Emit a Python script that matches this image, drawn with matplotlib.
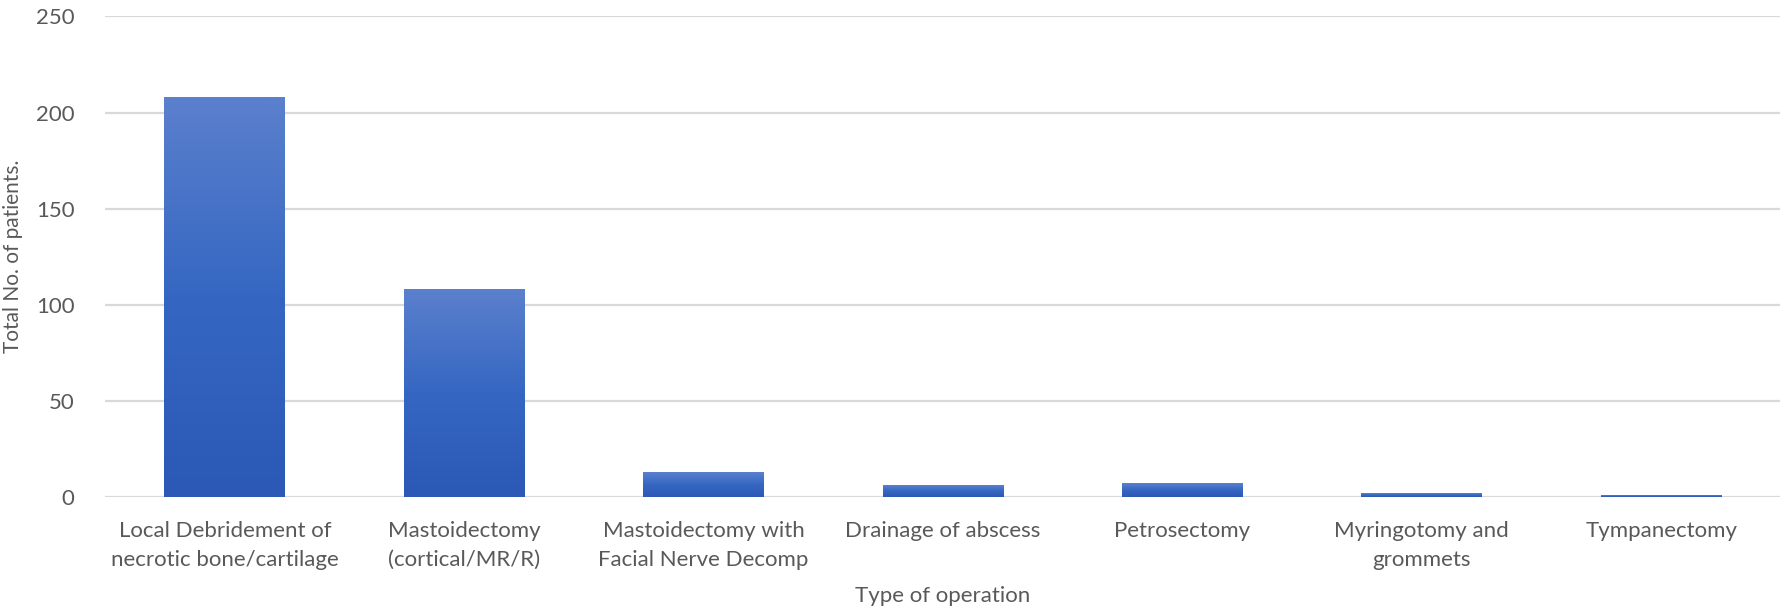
import numpy as np
import matplotlib
matplotlib.use('Agg')
import matplotlib.pyplot as plt
from matplotlib.colors import LinearSegmentedColormap

plt.rcParams['font.family'] = ['Lato', 'DejaVu Sans']

operations = ['Local Debridement of\nnecrotic bone/cartilage',
              'Mastoidectomy\n(cortical/MR/R)',
              'Mastoidectomy with\nFacial Nerve Decomp',
              'Drainage of abscess',
              'Petrosectomy',
              'Myringotomy and\ngrommets',
              'Tympanectomy']
patients = [208, 108, 13, 6, 7, 2, 1]
yticks = [0, 50, 100, 150, 200, 250]

text_grey = '#595959'
grad = LinearSegmentedColormap.from_list('bar', ['#2b59b5', '#3567c2', '#5b80cd'])

fig = plt.figure(figsize=(17.81, 6.10), dpi=100)
ax = fig.add_axes([0.059, 0.185, 0.941, 0.788])

x = np.arange(len(operations))
bars = ax.bar(x, patients, width=0.505, color='none', zorder=3)

# vertical gradient inside each bar, like the Excel fill
g = np.linspace(0, 1, 256).reshape(-1, 1)
for b in bars:
    x0, y0 = b.get_x(), b.get_y()
    w, h = b.get_width(), b.get_height()
    ax.imshow(g, cmap=grad, origin='lower', aspect='auto',
              extent=(x0, x0 + w, y0, y0 + h), zorder=3)

ax.set_xlim(-0.5, len(operations) - 0.5)
ax.set_ylim(0, 250)
ax.set_yticks(yticks)
ax.set_xticks(x)
ax.set_xticklabels(operations, fontsize=16, color=text_grey, linespacing=1.55)
ax.tick_params(axis='y', labelsize=16, labelcolor=text_grey, length=0, pad=22)
ax.tick_params(axis='x', length=0, pad=17)

ax.grid(axis='y', color='#d9d9d9', linewidth=1.6, zorder=0)
for s in ax.spines.values():
    s.set_visible(False)

ax.set_xlabel('Type of operation', fontsize=16, color=text_grey, labelpad=12)
ax.set_ylabel('Total No. of patients.', fontsize=15, color=text_grey)
ax.yaxis.set_label_coords(-0.049, 0.5)

fig.savefig('out.png', dpi=100)
